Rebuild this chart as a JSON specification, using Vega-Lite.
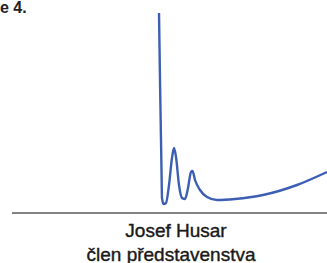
{
  "$schema": "https://vega.github.io/schema/vega-lite/v6.json",
  "width": 327,
  "height": 263,
  "autosize": "none",
  "padding": 0,
  "background": "white",
  "config": {"view": {"stroke": null}},
  "datasets": {
    "sig": [
      {"i": 1, "x": 159, "y": 13},
      {"i": 2, "x": 160, "y": 80},
      {"i": 3, "x": 161.5, "y": 170},
      {"i": 4, "x": 162, "y": 198},
      {"i": 5, "x": 163.5, "y": 204},
      {"i": 6, "x": 166, "y": 203},
      {"i": 7, "x": 169, "y": 185},
      {"i": 8, "x": 172, "y": 158},
      {"i": 9, "x": 174, "y": 148},
      {"i": 10, "x": 176, "y": 157},
      {"i": 11, "x": 179, "y": 185},
      {"i": 12, "x": 182, "y": 198},
      {"i": 13, "x": 185, "y": 199},
      {"i": 14, "x": 188, "y": 188},
      {"i": 15, "x": 191, "y": 172},
      {"i": 16, "x": 192.5, "y": 171},
      {"i": 17, "x": 195, "y": 180},
      {"i": 18, "x": 200, "y": 190},
      {"i": 19, "x": 207, "y": 197},
      {"i": 20, "x": 217, "y": 200},
      {"i": 21, "x": 235, "y": 199},
      {"i": 22, "x": 263, "y": 195},
      {"i": 23, "x": 297, "y": 185},
      {"i": 24, "x": 327, "y": 172}
    ],
    "base": [
      {"x": 12, "y": 213},
      {"x": 327, "y": 213}
    ],
    "labels": [
      {"t": "e 4.", "x": 0, "y": 13, "a": "left"},
      {"t": "Josef Husar", "x": 176, "y": 237, "a": "center"},
      {"t": "člen představenstva", "x": 171, "y": 261, "a": "center"}
    ]
  },
  "layer": [
    {
      "data": {"name": "base"},
      "mark": {"type": "line", "color": "#5a5a5a", "strokeWidth": 1.4},
      "encoding": {
        "x": {"field": "x", "type": "quantitative", "scale": {"domain": [0, 327]}, "axis": null},
        "y": {"field": "y", "type": "quantitative", "scale": {"domain": [263, 0]}, "axis": null}
      }
    },
    {
      "data": {"name": "sig"},
      "mark": {"type": "line", "color": "#3d5fb3", "strokeWidth": 2.4, "interpolate": "monotone"},
      "encoding": {
        "x": {"field": "x", "type": "quantitative", "scale": {"domain": [0, 327]}, "axis": null},
        "y": {"field": "y", "type": "quantitative", "scale": {"domain": [263, 0]}, "axis": null},
        "order": {"field": "i"}
      }
    },
    {
      "data": {"name": "labels"},
      "transform": [{"filter": "datum.a == 'left'"}],
      "mark": {"type": "text", "align": "left", "baseline": "alphabetic", "font": "Liberation Sans", "fontWeight": "bold", "fontSize": 16, "color": "#222222"},
      "encoding": {
        "x": {"field": "x", "type": "quantitative", "scale": {"domain": [0, 327]}, "axis": null},
        "y": {"field": "y", "type": "quantitative", "scale": {"domain": [263, 0]}, "axis": null},
        "text": {"field": "t"}
      }
    },
    {
      "data": {"name": "labels"},
      "transform": [{"filter": "datum.a == 'center'"}],
      "mark": {"type": "text", "align": "center", "baseline": "alphabetic", "font": "Liberation Sans", "fontSize": 19, "color": "#1a1a1a", "stroke": "#1a1a1a", "strokeWidth": 0.4},
      "encoding": {
        "x": {"field": "x", "type": "quantitative", "scale": {"domain": [0, 327]}, "axis": null},
        "y": {"field": "y", "type": "quantitative", "scale": {"domain": [263, 0]}, "axis": null},
        "text": {"field": "t"}
      }
    }
  ]
}
